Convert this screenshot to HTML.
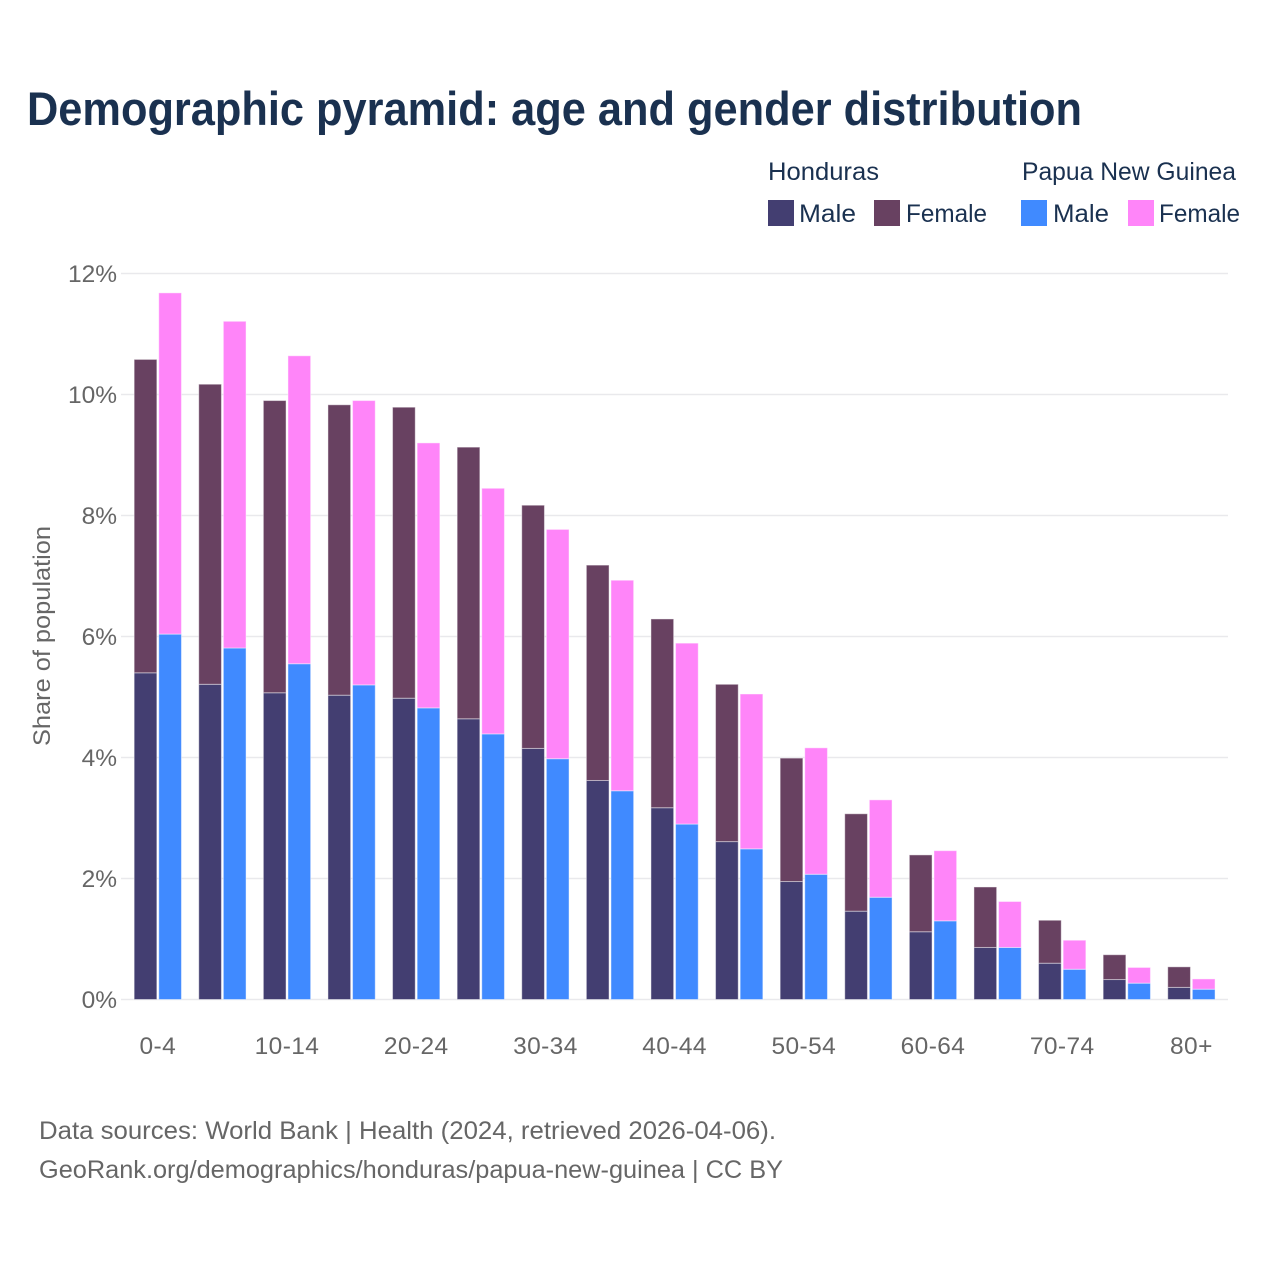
<!DOCTYPE html>
<html lang="en">
<head>
<meta charset="utf-8">
<title>Demographic pyramid: age and gender distribution</title>
<style>
html,body{margin:0;padding:0;background:#fff;}
svg{display:block;font-family:"Liberation Sans",Arial,sans-serif;}
</style>
</head>
<body>
<svg id="chart" xmlns="http://www.w3.org/2000/svg" width="1280" height="1280" viewBox="0 0 1280 1280">
  <rect x="0" y="0" width="1280" height="1280" fill="#ffffff"/>
  <text x="27" y="125" font-size="47" font-weight="700" fill="#1a3150" textLength="1055" lengthAdjust="spacingAndGlyphs">Demographic pyramid: age and gender distribution</text>

  <g font-size="25" fill="#1a3150">
    <text x="768" y="180" textLength="111" lengthAdjust="spacingAndGlyphs">Honduras</text>
    <text x="1022" y="180" textLength="214" lengthAdjust="spacingAndGlyphs">Papua New Guinea</text>
    <rect x="768" y="200" width="26" height="26" fill="#433e71"/>
    <text x="799" y="222" textLength="57" lengthAdjust="spacingAndGlyphs">Male</text>
    <rect x="874" y="200" width="26" height="26" fill="#684161"/>
    <text x="906" y="222" textLength="81" lengthAdjust="spacingAndGlyphs">Female</text>
    <rect x="1021" y="200" width="26" height="26" fill="#408aff"/>
    <text x="1053" y="222" textLength="56" lengthAdjust="spacingAndGlyphs">Male</text>
    <rect x="1128" y="200" width="26" height="26" fill="#ff85f9"/>
    <text x="1159" y="222" textLength="81" lengthAdjust="spacingAndGlyphs">Female</text>
  </g>

  <g id="grid"></g>
  <g id="y-labels"></g>
  <g id="bars"></g>
  <g id="x-labels"></g>

  <text transform="translate(50 636) rotate(-90)" text-anchor="middle" font-size="24" fill="#666666" textLength="220" lengthAdjust="spacingAndGlyphs">Share of population</text>

  <text x="39" y="1139" font-size="25" fill="#666666" textLength="737" lengthAdjust="spacingAndGlyphs">Data sources: World Bank | Health (2024, retrieved 2026-04-06).</text>
  <text x="39" y="1178" font-size="25" fill="#666666" textLength="744" lengthAdjust="spacingAndGlyphs">GeoRank.org/demographics/honduras/papua-new-guinea | CC BY</text>
</svg>
<script>
const categories = ["0-4","5-9","10-14","15-19","20-24","25-29","30-34","35-39","40-44","45-49","50-54","55-59","60-64","65-69","70-74","75-79","80+"];
const hondurasMale = [5.40,5.21,5.07,5.03,4.98,4.64,4.15,3.62,3.17,2.61,1.95,1.46,1.12,0.86,0.60,0.33,0.20];
const hondurasFemale = [5.18,4.96,4.83,4.80,4.81,4.49,4.02,3.56,3.12,2.60,2.04,1.61,1.27,1.00,0.71,0.41,0.34];
const pngMale = [6.04,5.81,5.55,5.20,4.82,4.39,3.98,3.45,2.90,2.49,2.07,1.69,1.30,0.86,0.50,0.27,0.17];
const pngFemale = [5.64,5.40,5.09,4.70,4.38,4.06,3.79,3.48,2.99,2.56,2.09,1.61,1.16,0.76,0.48,0.26,0.17];
const yTicks = [0,2,4,6,8,10,12];
const yTickLabels = ["0%","2%","4%","6%","8%","10%","12%"];

const SVG_NS = "http://www.w3.org/2000/svg";
const yScale = function (v) { return 999.5 - v * 60.5; };
const xCenter = function (i) { return 157.8 + i * 64.6; };
const BAR_W = 22.7;
const BAR_OFFSET = 12.3;

function make(tag, attrs, parent) {
  const el = document.createElementNS(SVG_NS, tag);
  Object.keys(attrs).forEach(function (k) { el.setAttribute(k, attrs[k]); });
  parent.appendChild(el);
  return el;
}

const gridG = document.getElementById("grid");
const yLabelG = document.getElementById("y-labels");
yTicks.forEach(function (t, i) {
  const line = make("line", {x1: 121, x2: 1228, y1: yScale(t), y2: yScale(t), stroke: "#e9e9ec", "stroke-width": 1.5}, gridG);
  
  
  const label = make("text", {x: 117, y: yScale(t) + 8.5, "text-anchor": "end", "font-size": 24.5, fill: "#666666"}, yLabelG);
  label.textContent = yTickLabels[i];
  
  
});

const barsG = document.getElementById("bars");
function drawSegment(cx, base, value, fill, name) {
  const top = yScale(base + value);
  const bottom = yScale(base);
  const rect = make("rect", {x: cx - BAR_W / 2, y: top, width: BAR_W, height: bottom - top, fill: fill, stroke: "#ffffff", "stroke-opacity": 0.45, "stroke-width": 1}, barsG);
  
  
}
categories.forEach(function (c, i) {
  const cx = xCenter(i);
  drawSegment(cx - BAR_OFFSET, 0, hondurasMale[i], "#433e71", "bar-honduras-male");
  drawSegment(cx - BAR_OFFSET, hondurasMale[i], hondurasFemale[i], "#684161", "bar-honduras-female");
  drawSegment(cx + BAR_OFFSET, 0, pngMale[i], "#408aff", "bar-png-male");
  drawSegment(cx + BAR_OFFSET, pngMale[i], pngFemale[i], "#ff85f9", "bar-png-female");
});

const xLabelG = document.getElementById("x-labels");
categories.forEach(function (c, i) {
  if (i % 2 !== 0) { return; }
  const label = make("text", {x: xCenter(i), y: 1054, "text-anchor": "middle", "font-size": 24.5, "letter-spacing": 0.4, fill: "#666666"}, xLabelG);
  label.textContent = c;
  
  
});
</script>
</body>
</html>
